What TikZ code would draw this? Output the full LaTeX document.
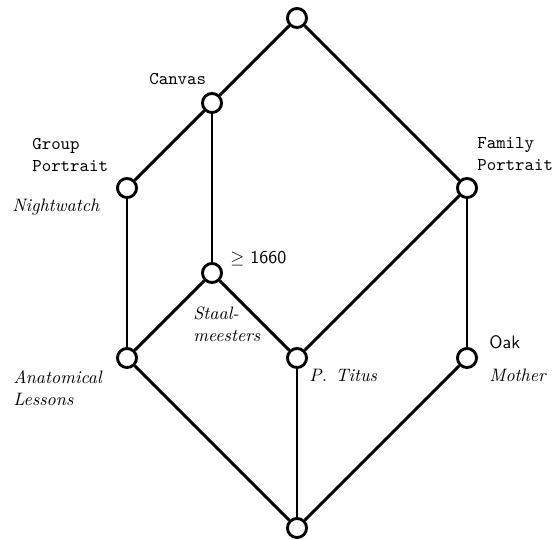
\documentclass[tikz,border=0pt]{standalone}
\begin{document}
\begin{tikzpicture}[x=0.5556pt,y=-0.5556pt,
  v/.style={circle,draw,line width=1.6pt,fill=white,minimum size=10.6pt,inner sep=0pt},
  e/.style={line width=1.6pt},
  lab/.style={inner sep=0pt,font=\normalsize},
  mlab/.style={inner sep=0pt,anchor=north west,align=left}]
\useasboundingbox (0,0) rectangle (555,540);
\node[v] (top) at (297,18) {};
\node[v] (canvas) at (212,103) {};
\node[v] (group) at (127,188) {};
\node[v] (family) at (467,188) {};
\node[v] (late) at (212,273) {};
\node[v] (anat) at (127,358) {};
\node[v] (titus) at (297,358) {};
\node[v] (oak) at (467,358) {};
\node[v] (bot) at (297,528) {};
\draw[e] (top) -- (canvas);
\draw[e] (top) -- (family);
\draw[e] (canvas) -- (group);
\draw[e] (canvas) -- (late);
\draw[e] (group) -- (anat);
\draw[e] (late) -- (anat);
\draw[e] (late) -- (titus);
\draw[e] (family) -- (titus);
\draw[e] (family) -- (oak);
\draw[e] (anat) -- (bot);
\draw[e] (titus) -- (bot);
\draw[e] (oak) -- (bot);
\node[lab,anchor=base west] (tcanvas) at (149,85) {\ttfamily Canvas};
\node[mlab] (tgroup) at (32,134) {\ttfamily\strut Group\\\ttfamily Portrait};
\node[lab,anchor=base west] (tnight) at (12,212) {\itshape Nightwatch};
\node[mlab] (tfamily) at (477,133) {\ttfamily\strut Family\\\ttfamily Portrait};
\node[lab,anchor=base west] (tlate) at (230,264) {$\geq$ \textsf{1660}};
\node[mlab] (tstaal) at (193,304) {\itshape\strut Staal-\\\itshape meesters};
\node[mlab] (tanat) at (13,368) {\itshape\strut Anatomical\\\itshape Lessons};
\node[lab,anchor=base west] (ttitus) at (309,382) {\itshape P\@. Titus};
\node[lab,anchor=base west] (toak) at (489,349) {\sffamily Oak};
\node[lab,anchor=base west] (tmother) at (489,382) {\itshape Mother};
\end{tikzpicture}
\end{document}
